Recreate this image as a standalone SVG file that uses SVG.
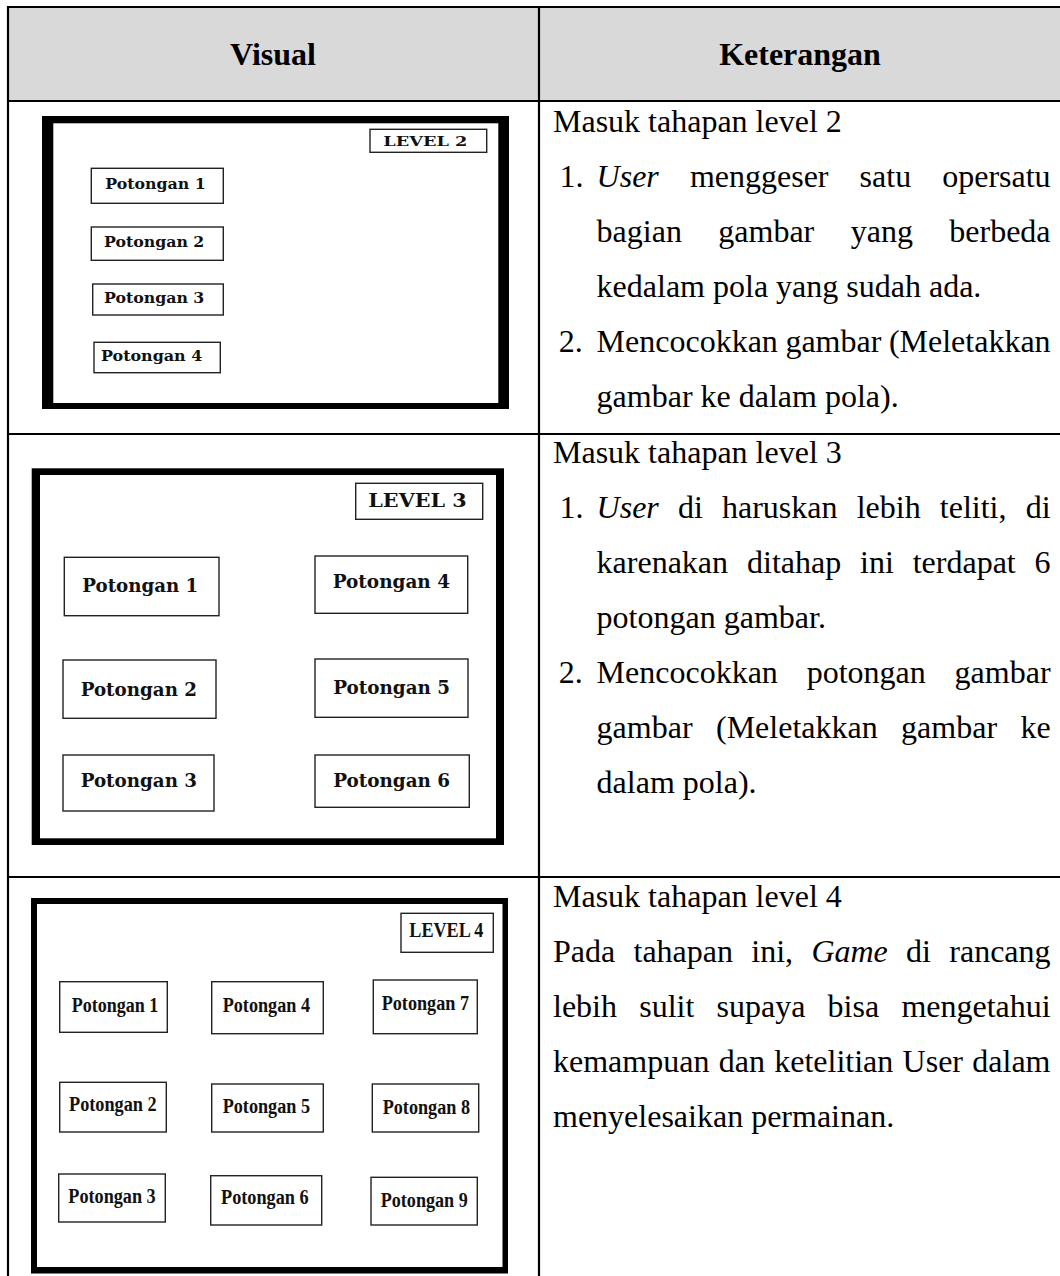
<svg xmlns="http://www.w3.org/2000/svg" width="1060" height="1276" viewBox="0 0 1060 1276">
  <style>
    .grid { stroke: #000; stroke-width: 2.2; fill: none; }
    .head { font-family: "Liberation Serif", "Times New Roman", serif; font-weight: bold; font-size: 32px; fill: #000; text-anchor: middle; }
    .body { font-family: "Liberation Serif", "Times New Roman", serif; font-size: 32px; fill: #000; }
    .it { font-style: italic; }
    .frame { fill: #000; }
    .screen { fill: #fff; }
    .box { fill: #fff; stroke: #222; stroke-width: 1.4; }
    .wide { font-family: "DejaVu Serif", "Liberation Serif", serif; font-weight: bold; fill: #111; }
    .narrow { font-family: "Liberation Serif", "Times New Roman", serif; font-weight: bold; font-size: 20px; fill: #111; }
  </style>

  <rect x="0" y="0" width="1060" height="1276" fill="#fff"/>

  <!-- table header -->
  <g id="header">
    <rect x="8" y="7" width="1052" height="94" fill="#d9d9d9"/>
    <text class="head" x="273" y="65">Visual</text>
    <text class="head" x="800" y="65">Keterangan</text>
  </g>

  <!-- table rules -->
  <g id="table-lines">
    <line class="grid" x1="8" y1="7" x2="1060" y2="7"/>
    <line class="grid" x1="8" y1="101" x2="1060" y2="101"/>
    <line class="grid" x1="8" y1="434" x2="1060" y2="434"/>
    <line class="grid" x1="8" y1="877" x2="1060" y2="877"/>
    <line class="grid" x1="8" y1="6" x2="8" y2="1276"/>
    <line class="grid" x1="539" y1="6" x2="539" y2="1276"/>
  </g>

  <!-- level 2 screen -->
  <g id="level2-screen">
    <rect class="frame" x="42" y="116" width="467" height="293"/>
    <rect class="screen" x="53.3" y="123.3" width="445" height="279.7"/>
    <g id="l2-level">
      <rect class="box" x="370" y="129.3" width="116.7" height="23"/>
      <text class="wide" font-size="13.5" x="383.3" y="145.7" textLength="84" lengthAdjust="spacingAndGlyphs">LEVEL 2</text>
    </g>
    <g id="l2-p1">
      <rect class="box" x="91.3" y="168.3" width="132" height="35"/>
      <text class="wide" font-size="14" x="105.3" y="189.3" textLength="100.4" lengthAdjust="spacingAndGlyphs">Potongan 1</text>
    </g>
    <g id="l2-p2">
      <rect class="box" x="91.3" y="227" width="132" height="33.3"/>
      <text class="wide" font-size="14" x="104" y="246.7" textLength="100.3" lengthAdjust="spacingAndGlyphs">Potongan 2</text>
    </g>
    <g id="l2-p3">
      <rect class="box" x="92.7" y="284" width="130.6" height="31"/>
      <text class="wide" font-size="14" x="104" y="303.3" textLength="100.3" lengthAdjust="spacingAndGlyphs">Potongan 3</text>
    </g>
    <g id="l2-p4">
      <rect class="box" x="94" y="342.3" width="126.3" height="30.4"/>
      <text class="wide" font-size="14" x="101" y="361" textLength="101.3" lengthAdjust="spacingAndGlyphs">Potongan 4</text>
    </g>
  </g>

  <!-- level 2 description -->
  <g id="level2-text" class="body">
    <text x="553" y="132">Masuk tahapan level 2</text>
    <text x="559.5" y="187">1.</text>
    <text y="187"><tspan class="it" x="596.6">User</tspan><tspan x="689.9">menggeser</tspan><tspan x="859.6">satu</tspan><tspan x="942.2">opersatu</tspan></text>
    <text y="242"><tspan x="596.6">bagian</tspan><tspan x="718.3">gambar</tspan><tspan x="850.7">yang</tspan><tspan x="949.3">berbeda</tspan></text>
    <text x="596.6" y="297">kedalam pola yang sudah ada.</text>
    <text x="558.7" y="352">2.</text>
    <text y="352"><tspan x="596.6">Mencocokkan</tspan><tspan x="785.4">gambar</tspan><tspan x="888.9">(Meletakkan</tspan></text>
    <text x="596.6" y="407">gambar ke dalam pola).</text>
  </g>

  <!-- level 3 screen -->
  <g id="level3-screen">
    <rect class="frame" x="31.7" y="468.3" width="472.3" height="376.7"/>
    <rect class="screen" x="40" y="475" width="456" height="363.3"/>
    <g id="l3-level">
      <rect class="box" x="355.7" y="483.3" width="127" height="36"/>
      <text class="wide" font-size="18" x="368.3" y="507.3" textLength="98.4" lengthAdjust="spacingAndGlyphs">LEVEL 3</text>
    </g>
    <g id="l3-p1">
      <rect class="box" x="64.3" y="557.3" width="154.7" height="58.4"/>
      <text class="wide" font-size="18.3" x="82.3" y="591.7" textLength="116" lengthAdjust="spacingAndGlyphs">Potongan 1</text>
    </g>
    <g id="l3-p4">
      <rect class="box" x="315" y="556" width="152.7" height="57.3"/>
      <text class="wide" font-size="18.3" x="332.7" y="588.3" textLength="117.3" lengthAdjust="spacingAndGlyphs">Potongan 4</text>
    </g>
    <g id="l3-p2">
      <rect class="box" x="63" y="660" width="153" height="58.3"/>
      <text class="wide" font-size="18.3" x="80.7" y="696" textLength="116.3" lengthAdjust="spacingAndGlyphs">Potongan 2</text>
    </g>
    <g id="l3-p5">
      <rect class="box" x="315" y="659" width="153" height="58.3"/>
      <text class="wide" font-size="18.3" x="333.3" y="694" textLength="116.7" lengthAdjust="spacingAndGlyphs">Potongan 5</text>
    </g>
    <g id="l3-p3">
      <rect class="box" x="63" y="755" width="151" height="56"/>
      <text class="wide" font-size="18.3" x="80.7" y="787.3" textLength="116.3" lengthAdjust="spacingAndGlyphs">Potongan 3</text>
    </g>
    <g id="l3-p6">
      <rect class="box" x="315" y="755" width="154.3" height="52.3"/>
      <text class="wide" font-size="18.3" x="333.3" y="787.3" textLength="116.7" lengthAdjust="spacingAndGlyphs">Potongan 6</text>
    </g>
  </g>

  <!-- level 3 description -->
  <g id="level3-text" class="body">
    <text x="553" y="463">Masuk tahapan level 3</text>
    <text x="559.5" y="518">1.</text>
    <text y="518"><tspan class="it" x="596.6">User</tspan><tspan x="678">di</tspan><tspan x="722">haruskan</tspan><tspan x="856.7">lebih</tspan><tspan x="939.8">teliti,</tspan><tspan x="1025.7">di</tspan></text>
    <text y="573"><tspan x="596.6">karenakan</tspan><tspan x="747">ditahap</tspan><tspan x="860">ini</tspan><tspan x="912.7">terdapat</tspan><tspan x="1034.6">6</tspan></text>
    <text x="596.6" y="628">potongan gambar.</text>
    <text x="558.7" y="683">2.</text>
    <text y="683"><tspan x="596.6">Mencocokkan</tspan><tspan x="806.7">potongan</tspan><tspan x="954.6">gambar</tspan></text>
    <text y="738"><tspan x="596.6">gambar</tspan><tspan x="716">(Meletakkan</tspan><tspan x="901.1">gambar</tspan><tspan x="1020.4">ke</tspan></text>
    <text x="596.6" y="793">dalam pola).</text>
  </g>

  <!-- level 4 screen -->
  <g id="level4-screen">
    <rect class="frame" x="31" y="898" width="477" height="375.5"/>
    <rect class="screen" x="37" y="904" width="465.5" height="363"/>
    <g id="l4-level">
      <rect class="box" x="401" y="913.3" width="92.3" height="39"/>
      <text class="narrow" x="409.3" y="937.3" textLength="74" lengthAdjust="spacingAndGlyphs">LEVEL 4</text>
    </g>
    <g id="l4-p1">
      <rect class="box" x="59.7" y="981.7" width="107.6" height="50.6"/>
      <text class="narrow" x="71.7" y="1011.7" textLength="86.6" lengthAdjust="spacingAndGlyphs">Potongan 1</text>
    </g>
    <g id="l4-p4">
      <rect class="box" x="211.7" y="981.7" width="111.6" height="52"/>
      <text class="narrow" x="222.7" y="1011.7" textLength="87.3" lengthAdjust="spacingAndGlyphs">Potongan 4</text>
    </g>
    <g id="l4-p7">
      <rect class="box" x="373.3" y="980" width="104" height="53.7"/>
      <text class="narrow" x="381.7" y="1010" textLength="87.3" lengthAdjust="spacingAndGlyphs">Potongan 7</text>
    </g>
    <g id="l4-p2">
      <rect class="box" x="59.7" y="1082.3" width="106.6" height="49.7"/>
      <text class="narrow" x="69" y="1111" textLength="87.7" lengthAdjust="spacingAndGlyphs">Potongan 2</text>
    </g>
    <g id="l4-p5">
      <rect class="box" x="211.7" y="1084" width="111.6" height="48"/>
      <text class="narrow" x="222.7" y="1112.7" textLength="87.3" lengthAdjust="spacingAndGlyphs">Potongan 5</text>
    </g>
    <g id="l4-p8">
      <rect class="box" x="372.3" y="1084" width="106.4" height="48"/>
      <text class="narrow" x="382.7" y="1114" textLength="87.3" lengthAdjust="spacingAndGlyphs">Potongan 8</text>
    </g>
    <g id="l4-p3">
      <rect class="box" x="58.7" y="1174" width="106.6" height="48"/>
      <text class="narrow" x="68.3" y="1202.7" textLength="87.4" lengthAdjust="spacingAndGlyphs">Potongan 3</text>
    </g>
    <g id="l4-p6">
      <rect class="box" x="210.7" y="1175.7" width="111" height="49.3"/>
      <text class="narrow" x="221" y="1204" textLength="87.7" lengthAdjust="spacingAndGlyphs">Potongan 6</text>
    </g>
    <g id="l4-p9">
      <rect class="box" x="371" y="1177.3" width="106.3" height="47.7"/>
      <text class="narrow" x="380.7" y="1206.7" textLength="87" lengthAdjust="spacingAndGlyphs">Potongan 9</text>
    </g>
  </g>

  <!-- level 4 description -->
  <g id="level4-text" class="body">
    <text x="553" y="907">Masuk tahapan level 4</text>
    <text y="962"><tspan x="553">Pada</tspan><tspan x="633.5">tahapan</tspan><tspan x="751.3">ini,</tspan><tspan class="it" x="811.4">Game</tspan><tspan x="906.1">di</tspan><tspan x="949.3">rancang</tspan></text>
    <text y="1017"><tspan x="553">lebih</tspan><tspan x="639.2">sulit</tspan><tspan x="716.5">supaya</tspan><tspan x="827.6">bisa</tspan><tspan x="901.4">mengetahui</tspan></text>
    <text y="1072"><tspan x="553">kemampuan</tspan><tspan x="718.7">dan</tspan><tspan x="774.2">ketelitian</tspan><tspan x="902.6">User</tspan><tspan x="972.3">dalam</tspan></text>
    <text x="553" y="1127">menyelesaikan permainan.</text>
  </g>
</svg>
